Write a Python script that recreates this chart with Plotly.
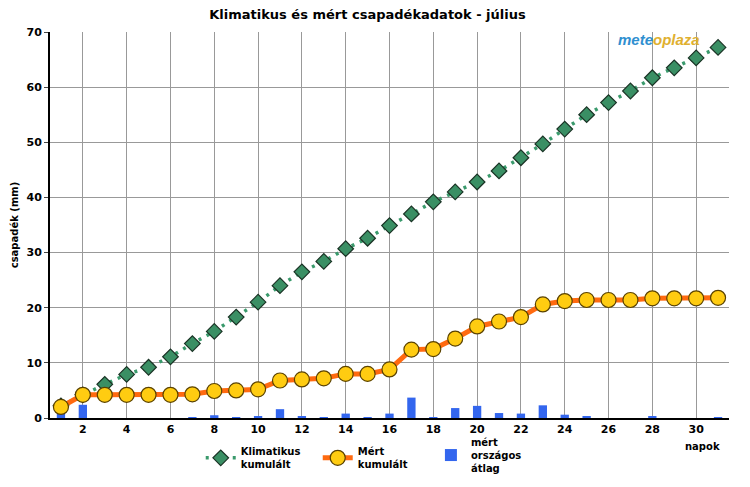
import plotly.graph_objects as go

napok = list(range(1, 32))

# Klimatikus kumulált (mm)
klimatikus = [2.2, 4.2, 6.1, 7.9, 9.2, 11.1, 13.5, 15.7, 18.3, 21.0,
              24.0, 26.5, 28.4, 30.7, 32.6, 34.9, 37.0, 39.2, 41.0, 42.8,
              44.8, 47.2, 49.7, 52.4, 55.0, 57.2, 59.3, 61.7, 63.5, 65.3, 67.2]

# Mért kumulált (mm)
mert = [2.0, 4.2, 4.2, 4.2, 4.2, 4.2, 4.3, 4.9, 5.0, 5.2,
        6.8, 7.0, 7.2, 8.0, 8.0, 8.8, 12.4, 12.5, 14.4, 16.6,
        17.5, 18.3, 20.6, 21.2, 21.4, 21.4, 21.4, 21.7, 21.7, 21.7, 21.8]

# Mért országos átlag - napi (mm)
atlag = [1.8, 2.4, 0.0, 0.0, 0.0, 0.0, 0.05, 0.5, 0.05, 0.2,
         1.6, 0.2, 0.1, 0.8, 0.05, 0.8, 3.7, 0.1, 1.8, 2.2,
         0.9, 0.8, 2.3, 0.6, 0.2, 0.0, 0.0, 0.3, 0.0, 0.0, 0.1]

x_ticks = list(range(2, 31, 2))
y_ticks = list(range(0, 71, 10))

fig = go.Figure()

fig.add_trace(go.Bar(
    x=napok, y=atlag, name="<b>mért<br>országos<br>átlag</b>",
    marker=dict(color="#3366ee", line=dict(width=0)),
    width=0.38, legend="legend2",
))

fig.add_trace(go.Scatter(
    x=napok, y=klimatikus, name="<b>Klimatikus<br>kumulált</b>",
    mode="lines+markers",
    line=dict(color="#3a9a6c", width=3.5, dash="3px,6px"),
    marker=dict(symbol="diamond", size=12, color="#3a8f64",
                line=dict(color="#1a3325", width=1.2)),
    legendrank=1,
))

fig.add_trace(go.Scatter(
    x=napok, y=mert, name="<b>Mért<br>kumulált</b>",
    mode="lines+markers",
    line=dict(color="#ff6a10", width=5),
    marker=dict(symbol="circle", size=15, color="#ffcc11",
                line=dict(color="#5a4200", width=1.2)),
    legendrank=2,
))

fig.add_annotation(
    x=0.99, y=-0.055, xref="paper", yref="paper", xanchor="right", yanchor="top",
    text="<b>napok</b>", showarrow=False, font=dict(size=10, color="black"),
)

# logó
fig.add_annotation(
    x=0.96, y=0.98, xref="paper", yref="paper", xanchor="right", yanchor="middle",
    text="<b><i><span style='color:#2f8fd0'>mete</span><span style='color:#e0b030'>oplaza</span></i></b>",
    showarrow=False, font=dict(size=15, family="Liberation Sans"),
)

fig.update_layout(
    width=750, height=487,
    margin=dict(l=50, r=21, t=32, b=69),
    paper_bgcolor="white", plot_bgcolor="white",
    font=dict(family="DejaVu Sans", color="black", size=11),
    title=dict(text="<b>Klimatikus és mért csapadékadatok - július</b>",
               x=0.49, xanchor="center", y=0.97, yanchor="middle",
               font=dict(size=13)),
    showlegend=True,
    legend=dict(orientation="h", x=0.222, xanchor="left",
                yref="container", y=0.1, yanchor="top",
                font=dict(size=10), bgcolor="rgba(0,0,0,0)",
                entrywidth=72, entrywidthmode="pixels"),
    legend2=dict(orientation="h", x=0.561, xanchor="left",
                 yref="container", y=0.119, yanchor="top",
                 font=dict(size=10), bgcolor="rgba(0,0,0,0)", itemwidth=30),
    bargap=0.6,
)

fig.update_xaxes(
    range=[0.5, 31.5], tickvals=x_ticks,
    ticktext=[f"<b>{t}</b>" for t in x_ticks],
    showgrid=True, gridcolor="#999999", gridwidth=1,
    showline=True, linecolor="black", linewidth=2,
    ticks="", zeroline=False, automargin=False,
)
fig.update_yaxes(
    range=[0, 70], tickvals=y_ticks,
    ticktext=[f"<b>{t}</b>" for t in y_ticks],
    showgrid=True, gridcolor="#999999", gridwidth=1,
    showline=True, linecolor="black", linewidth=2,
    ticks="outside", ticklen=4, tickwidth=1, zeroline=False, automargin=False,
    title=dict(text="<b>csapadék (mm)</b>", font=dict(size=10), standoff=6),
)

# a böngésző alapértelmezett 8px-es margója nélkül
fig.write_html("out.html", config={"displayModeBar": False},
               post_script="document.body.style.margin='0';")
